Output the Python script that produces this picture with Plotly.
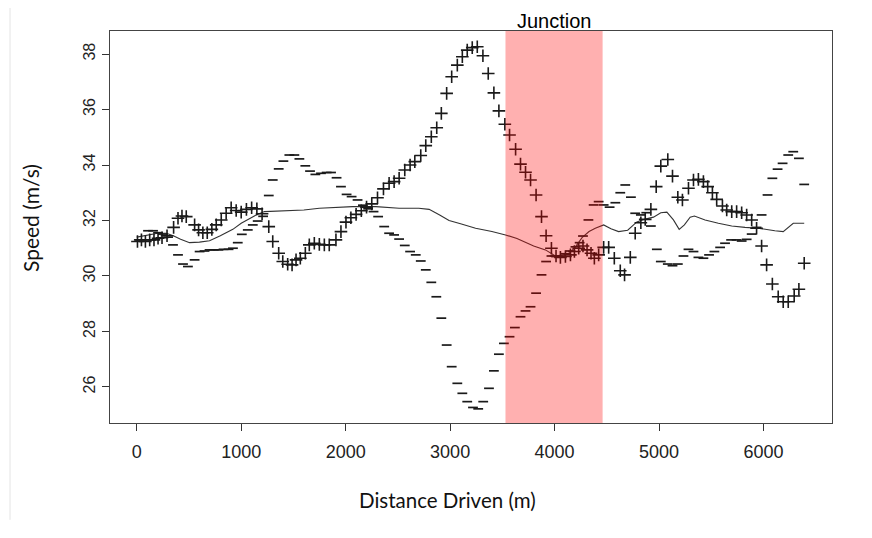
import plotly.graph_objects as go

# "+" series
plus_dist = [7, 45, 83, 124, 165, 204, 242, 290, 353, 395, 433, 474, 554, 592, 633, 675, 719, 761, 809,
             856, 904, 952, 1000, 1050, 1100, 1150, 1200, 1264, 1302, 1359, 1398, 1445, 1487, 1525, 1566,
             1614, 1652, 1700, 1748, 1796, 1843, 1907, 1955, 2003, 2050, 2100, 2150, 2200, 2250, 2305,
             2362, 2416, 2464, 2512, 2566, 2617, 2662, 2719, 2767, 2820, 2872, 2916, 2967, 3015, 3069,
             3117, 3164, 3212, 3260, 3314, 3365, 3419, 3467, 3524, 3569, 3627, 3674, 3722, 3770, 3823,
             3875, 3919, 3970, 4014, 4056, 4104, 4152, 4190, 4231, 4272, 4311, 4349, 4381, 4422, 4470,
             4518, 4572, 4629, 4670, 4725, 4772, 4826, 4868, 4922, 4973, 5017, 5084, 5129, 5180, 5224,
             5282, 5330, 5377, 5425, 5466, 5511, 5552, 5607, 5648, 5696, 5743, 5791, 5839, 5887, 5934,
             5982, 6030, 6085, 6141, 6189, 6237, 6294, 6339, 6390]
plus_speed = [31.24, 31.3, 31.24, 31.3, 31.3, 31.36, 31.38, 31.45, 31.75, 32.08, 32.16, 32.14, 31.84, 31.66,
              31.56, 31.56, 31.68, 31.84, 32.02, 32.26, 32.46, 32.36, 32.3, 32.4, 32.46, 32.42, 32.24,
              31.78, 31.24, 30.82, 30.52, 30.42, 30.4, 30.58, 30.64, 30.82, 31.12, 31.18, 31.14, 31.12,
              31.12, 31.3, 31.6, 31.94, 32.1, 32.22, 32.35, 32.48, 32.6, 32.82, 33.14, 33.34, 33.4, 33.52,
              33.82, 34.0, 34.12, 34.34, 34.7, 35.02, 35.34, 35.86, 36.58, 37.18, 37.6, 37.9, 38.14, 38.23,
              38.26, 37.94, 37.3, 36.6, 35.95, 35.47, 35.08, 34.57, 34.03, 33.74, 33.46, 32.92, 32.14,
              31.45, 31.0, 30.72, 30.67, 30.7, 30.76, 30.88, 31.0, 31.08, 30.94, 30.82, 30.64, 30.76,
              31.03, 31.03, 30.64, 30.19, 30.04, 30.67, 31.54, 31.92, 32.04, 32.4, 33.22, 33.96, 34.2,
              33.6, 32.84, 32.74, 33.16, 33.46, 33.48, 33.4, 33.22, 33.0, 32.76, 32.52, 32.38, 32.32,
              32.32, 32.28, 32.2, 32.02, 31.72, 31.08, 30.4, 29.71, 29.25, 29.07, 29.07, 29.28, 29.52,
              30.46]

# "-" series
minus_dist = [20, 108, 156, 204, 251, 300, 347, 395, 443, 490, 554, 602, 649, 697, 738, 783, 831, 879, 921,
              967, 1006, 1063, 1111, 1158, 1210, 1264, 1302, 1359, 1404, 1461, 1509, 1557, 1614, 1659,
              1710, 1764, 1818, 1860, 1913, 1955, 2009, 2057, 2114, 2165, 2215, 2267, 2311, 2369, 2416,
              2464, 2512, 2566, 2617, 2671, 2719, 2767, 2820, 2868, 2916, 2967, 3015, 3069, 3117, 3164,
              3219, 3269, 3317, 3372, 3419, 3467, 3515, 3569, 3620, 3674, 3722, 3770, 3823, 3875, 3919,
              3970, 4014, 4056, 4104, 4152, 4200, 4240, 4272, 4324, 4374, 4422, 4470, 4527, 4582, 4629,
              4677, 4731, 4772, 4826, 4878, 4922, 4979, 5017, 5084, 5129, 5180, 5234, 5282, 5330, 5377,
              5425, 5479, 5530, 5585, 5632, 5690, 5743, 5791, 5839, 5887, 5934, 5982, 6039, 6085, 6135,
              6183, 6237, 6285, 6339, 6390]
minus_speed = [31.3, 31.63, 31.63, 31.56, 31.51, 31.4, 31.12, 30.76, 30.43, 30.34, 30.58, 30.88, 30.9, 30.94,
               30.94, 30.94, 30.96, 30.96, 31.0, 31.2, 31.5, 31.66, 31.84, 31.98, 32.15, 32.9, 33.46,
               33.86, 34.14, 34.36, 34.36, 34.22, 33.97, 33.78, 33.66, 33.7, 33.73, 33.73, 33.54, 33.22,
               32.94, 32.86, 32.74, 32.55, 32.42, 32.32, 32.14, 31.78, 31.54, 31.48, 31.33, 31.1, 30.88,
               30.76, 30.54, 30.22, 29.77, 29.25, 28.48, 27.51, 26.73, 26.13, 25.77, 25.47, 25.26, 25.21,
               25.47, 25.95, 26.58, 27.18, 27.57, 27.81, 28.14, 28.53, 28.74, 28.89, 29.38, 30.04, 30.52,
               30.72, 30.7, 30.72, 30.8, 30.9, 31.05, 31.2, 31.44, 32.02, 32.56, 32.68, 32.56, 32.48,
               32.64, 33.0, 33.28, 32.84, 32.26, 32.2, 32.28, 31.8, 30.96, 30.52, 30.43, 30.37, 30.43,
               30.72, 30.96, 30.88, 30.67, 30.64, 30.76, 30.88, 31.03, 31.18, 31.3, 31.3, 31.26, 31.32,
               31.51, 31.75, 32.2, 32.92, 33.52, 33.85, 34.06, 34.36, 34.48, 34.24, 33.3]

# average line
avg_dist = [0, 100, 200, 283, 350, 420, 506, 600, 697, 800, 920, 1000, 1080, 1143, 1223, 1430, 1600, 1748,
            1900, 2066, 2289, 2512, 2700, 2799, 2900, 2990, 3100, 3244, 3400, 3531, 3640, 3722, 3800, 3913,
            4008, 4136, 4200, 4263, 4330, 4390, 4470, 4540, 4613, 4700, 4788, 4868, 4947, 5017, 5075, 5138,
            5193, 5243, 5298, 5339, 5441, 5568, 5696, 5823, 5950, 6109, 6189, 6285, 6390]
avg_speed = [31.4, 31.48, 31.54, 31.54, 31.45, 31.32, 31.2, 31.22, 31.27, 31.45, 31.68, 31.9, 32.08, 32.2,
             32.32, 32.34, 32.38, 32.44, 32.46, 32.5, 32.5, 32.44, 32.44, 32.4, 32.2, 32.0, 31.88, 31.72,
             31.6, 31.48, 31.35, 31.2, 31.08, 30.94, 30.72, 30.8, 31.05, 31.38, 31.6, 31.72, 31.84, 31.7,
             31.6, 31.65, 31.95, 32.05, 32.12, 32.28, 32.3, 32.02, 31.68, 31.84, 32.12, 32.16, 32.02, 31.9,
             31.8, 31.75, 31.72, 31.63, 31.6, 31.9, 31.9]

x_ticks = [0, 1000, 2000, 3000, 4000, 5000, 6000]
y_ticks = [26, 28, 30, 32, 34, 36, 38]
junction_start, junction_end = 3530, 4460
junction_label = "Junction"
x_title = "Distance Driven (m)"
y_title = "Speed (m/s)"

fig = go.Figure()
fig.add_trace(go.Scatter(x=avg_dist, y=avg_speed, mode="lines",
                         line=dict(color="#333333", width=1.1), hoverinfo="skip"))
fig.add_trace(go.Scatter(x=minus_dist, y=minus_speed, mode="markers",
                         marker=dict(symbol="line-ew", size=7, line=dict(color="#1a1a1a", width=1.7))))
fig.add_trace(go.Scatter(x=plus_dist, y=plus_speed, mode="markers",
                         marker=dict(symbol="cross-thin", size=9, line=dict(color="#1a1a1a", width=1.6))))

fig.add_shape(type="rect", xref="x", yref="paper", x0=junction_start, x1=junction_end, y0=0, y1=1,
              fillcolor="rgba(255,0,0,0.31)", line=dict(width=0), layer="above")
fig.add_annotation(x=(junction_start + junction_end) / 2, y=1, xref="x", yref="paper",
                   text=junction_label, showarrow=False, yanchor="bottom", yshift=-3,
                   font=dict(family="Liberation Sans, Arial", size=20, color="#000"))
# axis titles placed as annotations
fig.add_annotation(x=(447 - 110) / 722, y=(423 - 500) / 392, xref="paper", yref="paper",
                   text=x_title, showarrow=False, xanchor="center", yanchor="middle",
                   font=dict(family="Lato, Open Sans", size=20.5, color="#111"))
fig.add_annotation(x=(30 - 110) / 722, y=(423 - 218) / 392, xref="paper", yref="paper",
                   text=y_title, showarrow=False, xanchor="center", yanchor="middle", textangle=-90,
                   font=dict(family="Lato, Open Sans", size=21, color="#111"))
# faint screenshot edge line
fig.add_shape(type="line", xref="paper", yref="paper", x0=-0.1385, x1=-0.1385, y0=-0.247, y1=1.06,
              line=dict(color="#e4e4e4", width=1))

# page body has an 8px margin, so the figure is sized/offset to compensate
fig.update_layout(
    width=864, height=530,
    margin=dict(l=102, r=40, t=23, b=115),
    paper_bgcolor="white", plot_bgcolor="white",
    showlegend=False,
    xaxis=dict(range=[-256, 6656], tickvals=x_ticks, ticks="outside", ticklen=7, tickwidth=1.2,
               tickcolor="#333", showline=True, mirror=True, linecolor="#444", linewidth=1.3,
               showgrid=False, zeroline=False, automargin=False, ticklabelstandoff=5,
               tickfont=dict(family="Liberation Sans, Arial", size=18, color="#222")),
    yaxis=dict(range=[24.70, 38.83], tickvals=y_ticks, ticks="outside", ticklen=7, tickwidth=1.2,
               tickcolor="#333", showline=True, mirror=True, linecolor="#444", linewidth=1.3,
               showgrid=False, zeroline=False, tickangle=-90, automargin=False,
               tickfont=dict(family="Liberation Sans, Arial", size=16, color="#222")),
)

fig.write_html("out.html")
